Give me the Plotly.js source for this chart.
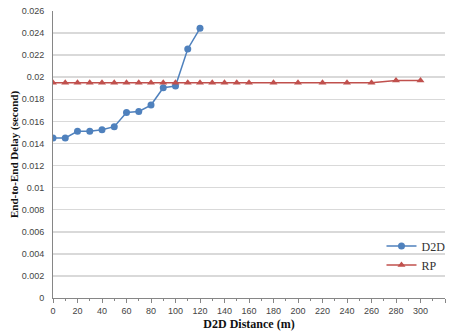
<!DOCTYPE html>
<html><head><meta charset="utf-8">
<script src="https://cdn.plot.ly/plotly-3.0.1.min.js"></script>
<style>body{margin:0;padding:0;background:#fff}#c{width:452px;height:335px}</style>
</head><body><div id="c"></div>
<script>
const d2dX = [0,10,20,30,40,50,60,70,80,90,100,110,120];
const d2dY = [0.0145,0.0145,0.0151,0.0151,0.01525,0.01552,0.0168,0.0169,0.01748,0.01905,0.0192,0.02256,0.02443];
const rpX = [0,10,20,30,40,50,60,70,80,90,100,110,120,130,140,150,160,180,200,220,240,260,280,300];
const rpY = [0.0195,0.0195,0.0195,0.0195,0.0195,0.0195,0.0195,0.0195,0.0195,0.0195,0.0195,0.0195,0.0195,0.0195,0.0195,0.0195,0.0195,0.0195,0.0195,0.0195,0.0195,0.0195,0.0197,0.0197];
const xTicks = [0,20,40,60,80,100,120,140,160,180,200,220,240,260,280,300,320];
const yTicks = [0,0.002,0.004,0.006,0.008,0.01,0.012,0.014,0.016,0.018,0.02,0.022,0.024,0.026];

const traces = [
  {x:d2dX,y:d2dY,name:'D2D',type:'scatter',mode:'lines+markers',
   line:{color:'#4f81bd',width:1.5},marker:{symbol:'circle',size:7,color:'#4f81bd'}},
  {x:rpX,y:rpY,name:'RP',type:'scatter',mode:'lines+markers',
   line:{color:'#c0504d',width:1.5},marker:{symbol:'triangle-up',size:7,color:'#c0504d'}}
];
const layout = {
  width:452,height:335,margin:{l:53,r:7,t:11,b:37,autoexpand:false},
  paper_bgcolor:'#fff',plot_bgcolor:'#fff',
  showlegend:true,
  legend:{x:0.838,y:0.232,xanchor:'left',yanchor:'top',bgcolor:'rgba(0,0,0,0)',
    font:{family:'Liberation Serif',size:12,color:'#333'}},
  xaxis:{range:[0,320],tickvals:xTicks,ticktext:xTicks.map(String),showgrid:false,zeroline:false,
    showline:true,linecolor:'#868686',linewidth:1,ticks:'outside',ticklen:4,tickcolor:'#868686',
    minor:{dtick:10,ticks:'outside',ticklen:2,tickcolor:'#868686'},
    tickfont:{family:'Liberation Sans',size:9,color:'#444'},
    title:{text:'<b>D2D Distance (m)</b>',font:{family:'Liberation Serif',size:12,color:'#111'},standoff:4}},
  yaxis:{range:[0,0.026],tickvals:yTicks,ticktext:yTicks.map(v=>String(+v.toFixed(3))),
    showgrid:true,gridcolor:'#d9d9d9',gridwidth:1.5,zeroline:false,
    showline:true,linecolor:'#868686',linewidth:1,ticks:'',ticklabelstandoff:6,
    tickfont:{family:'Liberation Sans',size:9,color:'#444'},
    title:{text:'<b>End-to-End Delay (second)</b>',font:{family:'Liberation Serif',size:11,color:'#111'},standoff:0}}
};
Plotly.newPlot('c',traces,layout,{displayModeBar:false,staticPlot:true});
</script></body></html>
